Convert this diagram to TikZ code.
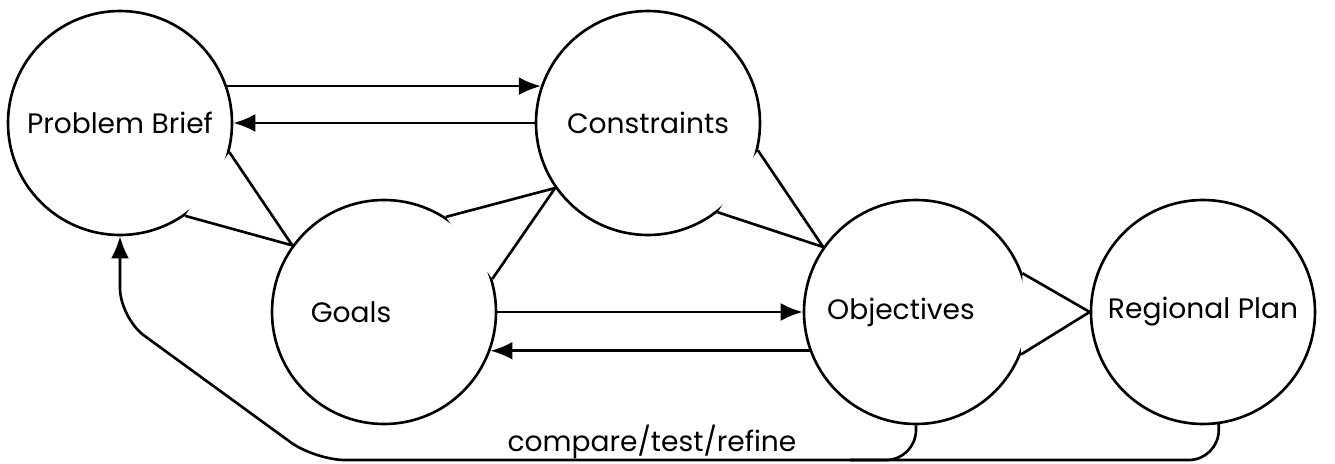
\documentclass[tikz,border=0pt]{standalone}
\usepackage{fontspec}
\setmainfont{Poppins}
\usetikzlibrary{arrows.meta}

\tikzset{
  bubble/.style={circle, draw, line width=1.5pt, minimum size=4.48cm, inner sep=0pt},
  link/.style={line width=1.5pt, -{Latex[length=4.4mm,width=3.6mm]}},
  notch/.style={line width=1.5pt, fill=white, line join=round},
}

\begin{document}
\begin{tikzpicture}[x=0.2mm, y=-0.2mm, font=\fontsize{16}{19}\selectfont]
    \useasboundingbox (0,0) rectangle (1335,464);
    % the five bubbles
    \node[bubble] (brief) at (120,123) {Problem Brief};
    \node[bubble] (cons) at (648,123) {Constraints};
    \node[bubble, label={[xshift=-6.6mm]center:Goals}] (goals) at (384,312) {};
    \node[bubble, label={[xshift=-3mm]center:Objectives}] (obj) at (916,312) {};
    \node[bubble] (rp) at (1203,312) {Regional Plan};
    % wedges between bubbles
    \filldraw[notch] (brief.-15) -- (goals.144) -- (brief.-55);
    \filldraw[notch] (goals.57) -- (cons.215) -- (goals.17);
    \filldraw[notch] (cons.-14) -- (obj.145) -- (cons.-52);
    \filldraw[notch] (obj.20) -- (rp.west) -- (obj.-22);
    % arrows
    \draw[link] (brief.19) -- (cons.161);
    \draw[link] (cons.west) -- (brief.east);
    \draw[link] (goals.east) -- (obj.west);
    \draw[link] (obj.-160) -- (goals.-20);
    % feedback loop
    \coordinate (bend1) at (315,460);
    \coordinate (bend2) at (120,318);
    \draw[link, rounded corners=6mm] (rp.-82) |- (bend1) -- (bend2) -- (brief.south);
    \draw[line width=1.5pt, rounded corners=6mm] (obj.south) |- (850,460);
    \node (cmp) at (652,442) {compare/test/refine};
\end{tikzpicture}
\end{document}
